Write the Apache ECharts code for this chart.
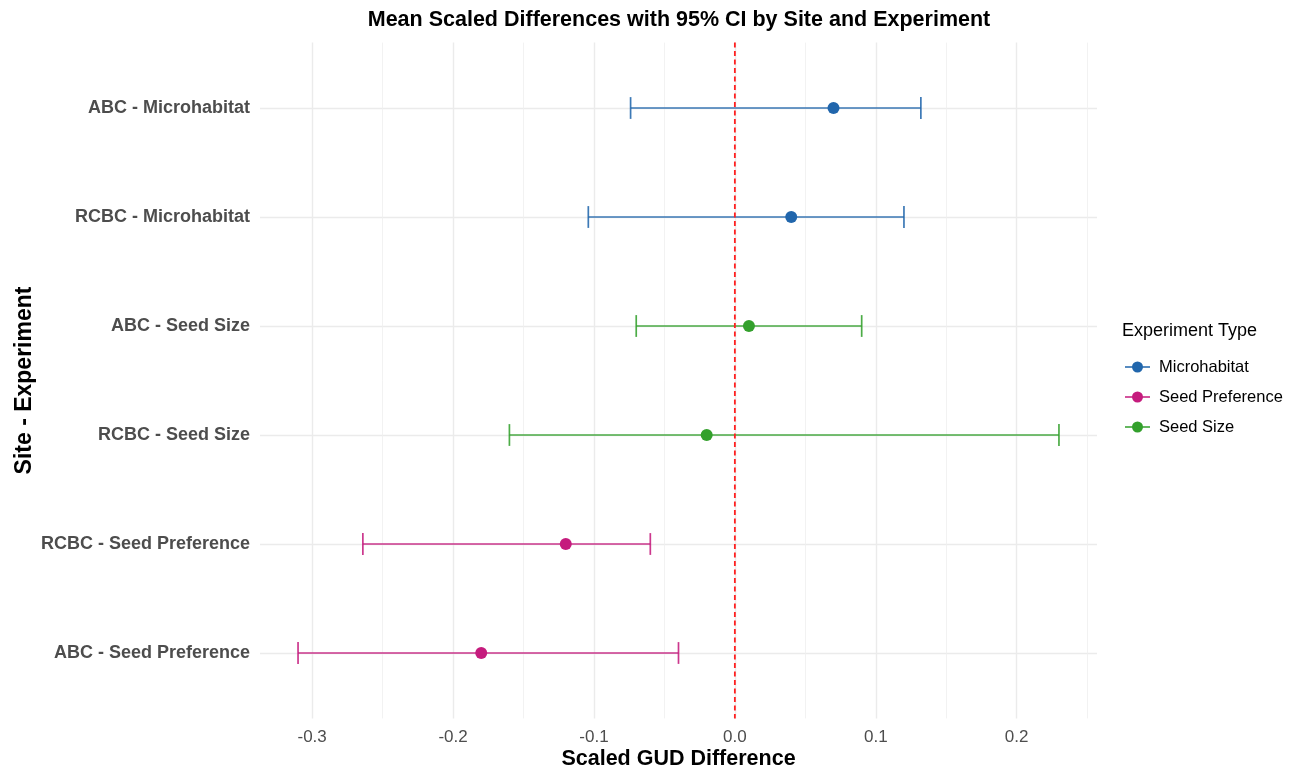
<!DOCTYPE html>
<html>
<head>
<meta charset="utf-8">
<script src="https://cdn.jsdelivr.net/npm/echarts@6/dist/echarts.min.js"></script>
<style>
html,body{margin:0;padding:0;background:#fff;}
#chart{width:1301px;height:774px;}
</style>
</head>
<body>
<div id="chart"></div>
<script>
// ---- Data (bottom to top on the y axis) ----
const categories = ['ABC - Seed Preference', 'RCBC - Seed Preference', 'RCBC - Seed Size', 'ABC - Seed Size', 'RCBC - Microhabitat', 'ABC - Microhabitat'];
const experimentTypes = ['Seed Preference', 'Seed Preference', 'Seed Size', 'Seed Size', 'Microhabitat', 'Microhabitat'];
const meanValues = [-0.180, -0.120, -0.020, 0.010, 0.040, 0.070];
const lowerCI = [-0.310, -0.264, -0.160, -0.070, -0.104, -0.074];
const upperCI = [-0.040, -0.060, 0.230, 0.090, 0.120, 0.132];
const legendOrder = ['Microhabitat', 'Seed Preference', 'Seed Size'];
const xTickValues = [-0.3, -0.2, -0.1, 0.0, 0.1, 0.2];
const xMinorTickValues = [-0.25, -0.15, -0.05, 0.05, 0.15, 0.25];
const referenceX = [0];

// ---- Styles ----
const typeColors = {
  'Microhabitat': '#2166AC',
  'Seed Preference': '#C51B7D',
  'Seed Size': '#33A02C'
};
const FONT = '"Liberation Sans", Arial, Helvetica, sans-serif';
const xMin = -0.337, xMax = 0.257;
const yMin = -0.6, yMax = 5.6;
const capHeight = 0.2;
const legendIcon = 'path://M0,4.75L25,4.75L25,6.25L0,6.25Z M7,5.5A5.5,5.5 0 1 1 18,5.5A5.5,5.5 0 1 1 7,5.5Z';

const series = [];
legendOrder.forEach(function (t) {
  const barData = [], pointData = [];
  categories.forEach(function (c, i) {
    if (experimentTypes[i] === t) {
      barData.push([lowerCI[i], upperCI[i], i]);
      pointData.push([meanValues[i], i]);
    }
  });
  series.push({
    name: t,
    type: 'custom',
    xAxisIndex: 0,
    yAxisIndex: 0,
    itemStyle: { color: typeColors[t] },
    encode: { x: [0, 1], y: 2 },
    data: barData,
    z: 3,
    renderItem: function (params, api) {
      const y = api.value(2);
      const p1 = api.coord([api.value(0), y]);
      const p2 = api.coord([api.value(1), y]);
      const h = api.size([0, capHeight])[1] / 2;
      const st = { stroke: typeColors[t], lineWidth: 1.7, opacity: 0.88 };
      return {
        type: 'group',
        children: [
          { type: 'line', shape: { x1: p1[0], y1: p1[1], x2: p2[0], y2: p2[1] }, style: st },
          { type: 'line', shape: { x1: p1[0], y1: p1[1] - h, x2: p1[0], y2: p1[1] + h }, style: st },
          { type: 'line', shape: { x1: p2[0], y1: p2[1] - h, x2: p2[0], y2: p2[1] + h }, style: st }
        ]
      };
    }
  });
  series.push({
    name: t,
    type: 'scatter',
    xAxisIndex: 0,
    yAxisIndex: 0,
    symbol: 'circle',
    symbolSize: 12,
    itemStyle: { color: typeColors[t], opacity: 1 },
    data: pointData,
    z: 4
  });
});

// reference dashed line at x = 0 spanning the whole panel
series.push({
  name: 'reference',
  type: 'custom',
  xAxisIndex: 0,
  yAxisIndex: 0,
  silent: true,
  encode: { x: 0 },
  data: referenceX.map(function (v) { return [v]; }),
  z: 5,
  renderItem: function (params, api) {
    const cs = params.coordSys;
    const x = api.coord([api.value(0), 0])[0];
    return {
      type: 'line',
      shape: { x1: x, y1: cs.y, x2: x, y2: cs.y + cs.height },
      style: { stroke: '#ff2020', lineWidth: 1.8, lineDash: [5, 3.5] }
    };
  }
});

const chart = echarts.init(document.getElementById('chart'));
chart.setOption({
  animation: false,
  backgroundColor: '#ffffff',
  textStyle: { fontFamily: FONT },
  title: [
    {
      text: 'Mean Scaled Differences with 95% CI by Site and Experiment',
      left: 674,
      top: 4,
      textAlign: 'center',
      textStyle: { fontFamily: FONT, fontSize: 21.5, fontWeight: 'bold', color: '#000000' }
    },
    {
      text: 'Experiment Type',
      left: 1122,
      top: 322,
      padding: 0,
      textStyle: { fontFamily: FONT, fontSize: 18, fontWeight: 'normal', color: '#000000' }
    }
  ],
  legend: {
    orient: 'vertical',
    left: 1125,
    top: 357,
    itemWidth: 25,
    itemHeight: 11,
    itemGap: 10,
    padding: 0,
    selectedMode: false,
    textStyle: { fontFamily: FONT, fontSize: 16.5, color: '#000000', lineHeight: 20, padding: [0, 0, 0, 4] },
    data: legendOrder.map(function (t) {
      return { name: t, icon: legendIcon, itemStyle: { color: typeColors[t] } };
    })
  },
  grid: { left: 260, right: 204, top: 42.6, bottom: 55.6, containLabel: false, outerBoundsMode: 'none' },
  xAxis: [
    {
      type: 'value',
      min: xMin,
      max: xMax,
      name: 'Scaled GUD Difference',
      nameLocation: 'middle',
      nameGap: 30,
      nameMoveOverlap: false,
      nameTextStyle: { fontFamily: FONT, fontSize: 21.5, fontWeight: 'bold', color: '#000000' },
      axisLine: { show: false },
      axisTick: { show: false, customValues: xTickValues },
      axisLabel: {
        customValues: xTickValues,
        margin: 10,
        fontFamily: FONT,
        fontSize: 17,
        color: '#4d4d4d',
        formatter: function (v) { return v.toFixed(1); }
      },
      splitLine: { show: true, lineStyle: { color: '#ebebeb', width: 1.4 } }
    },
    {
      type: 'value',
      min: xMin,
      max: xMax,
      position: 'bottom',
      axisLine: { show: false },
      axisTick: { show: false, customValues: xMinorTickValues },
      axisLabel: { show: false, customValues: xMinorTickValues },
      splitLine: { show: true, lineStyle: { color: '#efefef', width: 0.8 } }
    }
  ],
  yAxis: {
    type: 'value',
    min: yMin,
    max: yMax,
    name: 'Site - Experiment',
    nameLocation: 'middle',
    nameGap: 224,
    nameMoveOverlap: false,
    nameRotate: 90,
    nameTextStyle: { fontFamily: FONT, fontSize: 23, fontWeight: 'bold', color: '#000000' },
    axisLine: { show: false },
    axisTick: { show: false, customValues: categories.map(function (c, i) { return i; }) },
    axisLabel: {
      customValues: categories.map(function (c, i) { return i; }),
      margin: 10,
      fontFamily: FONT,
      fontSize: 18,
      fontWeight: 'bold',
      color: '#4d4d4d',
      formatter: function (v) { return categories[Math.round(v)]; }
    },
    splitLine: { show: true, lineStyle: { color: '#ebebeb', width: 1.4 } }
  },
  series: series
});
</script>
</body>
</html>
